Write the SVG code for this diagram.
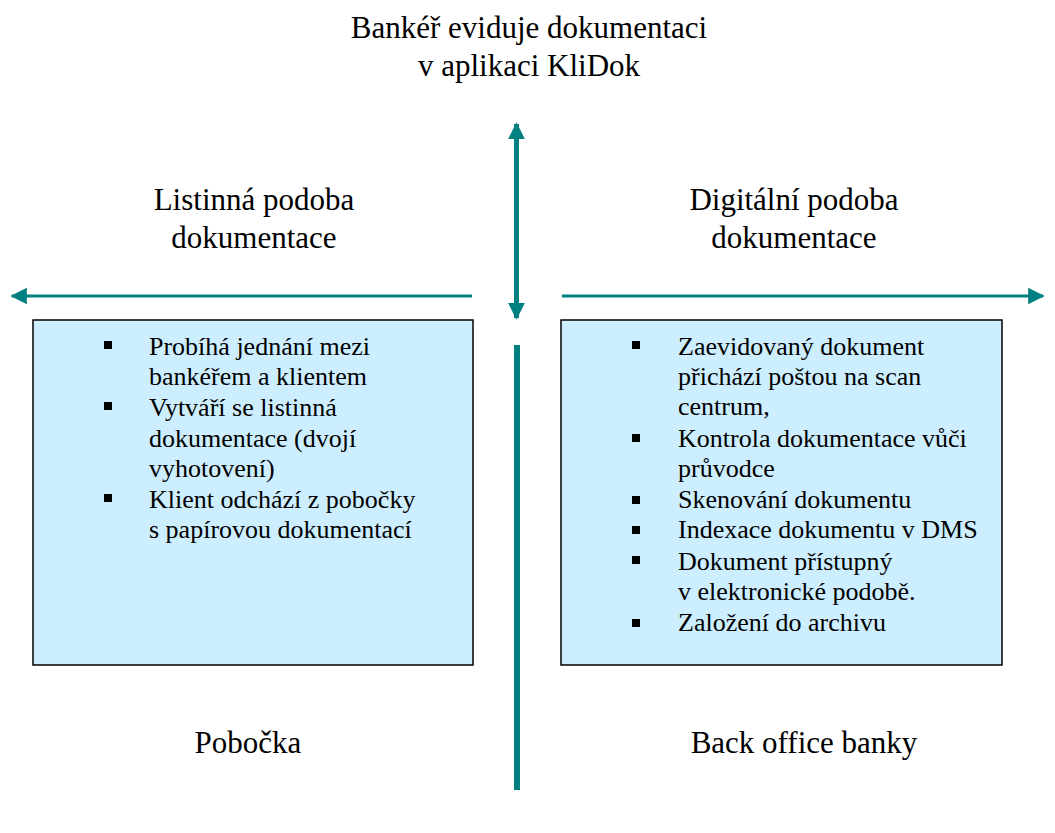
<svg xmlns="http://www.w3.org/2000/svg" width="1055" height="833" viewBox="0 0 1055 833">
  <style>
    .t { font-family: "Liberation Serif", "Times New Roman", serif; fill: #000; }
    .big { font-size: 31px; text-anchor: middle; }
    .item { font-size: 26px; }
    .box { fill: #cdeeff; stroke: #000; stroke-width: 1.5; }
    .axis { stroke: #008080; fill: none; }
  </style>
  <defs>
    <marker id="head" viewBox="0 0 10 10" refX="9" refY="5" markerWidth="3.4" markerHeight="3.4" orient="auto-start-reverse" markerUnits="strokeWidth">
      <path d="M0,0 L10,5 L0,10 z" fill="#008080"/>
    </marker>
    <marker id="headThin" viewBox="0 0 10 10" refX="9" refY="5" markerWidth="5.5" markerHeight="5.5" orient="auto" markerUnits="strokeWidth">
      <path d="M0,0 L10,5 L0,10 z" fill="#008080"/>
    </marker>
  </defs>

  <!-- axes: vertical split with a two-way arrow on top, horizontal arrows to both sides -->
  <g id="connectors">
    <line class="axis" x1="516.5" y1="318" x2="516.5" y2="124" stroke-width="5" marker-start="url(#head)" marker-end="url(#head)"/>
    <line class="axis" x1="517" y1="345" x2="517" y2="790" stroke-width="6"/>
    <line class="axis" x1="472" y1="296" x2="12" y2="296" stroke-width="3" marker-end="url(#headThin)"/>
    <line class="axis" x1="562" y1="296" x2="1043" y2="296" stroke-width="3" marker-end="url(#headThin)"/>
  </g>

  <g id="title">
    <text class="t big" x="529" y="38">Bankéř eviduje dokumentaci</text>
    <text class="t big" x="529" y="76">v aplikaci KliDok</text>
  </g>

  <g id="label-paper">
    <text class="t big" x="254" y="210">Listinná podoba</text>
    <text class="t big" x="254" y="248">dokumentace</text>
  </g>

  <g id="label-digital">
    <text class="t big" x="794" y="210">Digitální podoba</text>
    <text class="t big" x="794" y="248">dokumentace</text>
  </g>

  <g id="box-branch">
    <rect class="box" x="33" y="320" width="440" height="345"/>
    <g fill="#000">
      <rect x="104" y="341" width="8" height="8"/>
      <rect x="104" y="402" width="8" height="8"/>
      <rect x="104" y="494" width="8" height="8"/>
    </g>
    <text class="t item" x="149" y="355">Probíhá jednání mezi</text>
    <text class="t item" x="149" y="385">bankéřem a klientem</text>
    <text class="t item" x="149" y="416">Vytváří se listinná</text>
    <text class="t item" x="149" y="447">dokumentace (dvojí</text>
    <text class="t item" x="149" y="477">vyhotovení)</text>
    <text class="t item" x="149" y="508">Klient odchází z pobočky</text>
    <text class="t item" x="149" y="538">s papírovou dokumentací</text>
  </g>

  <g id="box-backoffice">
    <rect class="box" x="561" y="320" width="441" height="345"/>
    <g fill="#000">
      <rect x="632" y="341" width="8" height="8"/>
      <rect x="632" y="434" width="8" height="8"/>
      <rect x="632" y="496" width="8" height="8"/>
      <rect x="632" y="526" width="8" height="8"/>
      <rect x="632" y="556" width="8" height="8"/>
      <rect x="632" y="619" width="8" height="8"/>
    </g>
    <text class="t item" x="678" y="355">Zaevidovaný dokument</text>
    <text class="t item" x="678" y="385">přichází poštou na scan</text>
    <text class="t item" x="678" y="415">centrum,</text>
    <text class="t item" x="678" y="447">Kontrola dokumentace vůči</text>
    <text class="t item" x="678" y="477">průvodce</text>
    <text class="t item" x="678" y="508">Skenování dokumentu</text>
    <text class="t item" x="678" y="538">Indexace dokumentu v DMS</text>
    <text class="t item" x="678" y="570">Dokument přístupný</text>
    <text class="t item" x="678" y="600">v elektronické podobě.</text>
    <text class="t item" x="678" y="631">Založení do archivu</text>
  </g>

  <g id="label-branch">
    <text class="t big" x="248" y="753">Pobočka</text>
  </g>

  <g id="label-backoffice">
    <text class="t big" x="804" y="753">Back office banky</text>
  </g>
</svg>
